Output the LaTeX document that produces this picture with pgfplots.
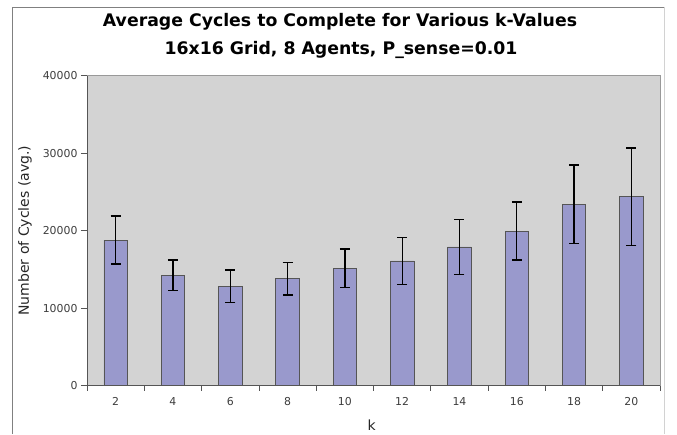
\documentclass[border=0pt]{standalone}
\usepackage{pgfplots}
\pgfplotsset{compat=1.18}
\usepackage{fontspec}
\setmainfont{DejaVu Sans}
\definecolor{barfill}{RGB}{153,153,204}
\definecolor{bg}{RGB}{211,211,211}
\definecolor{axisdark}{RGB}{85,85,85}
\definecolor{ticktext}{RGB}{60,60,60}
\pgfplotstableread{
k  y      e
2  18800  3080
4  14250  1950
6  12860  2100
8  13800  2120
10 15150  2480
12 16100  3050
14 17900  3550
16 19960  3750
18 23400  5050
20 24400  6280
}\datatable
\begin{document}
\begin{tikzpicture}[x=1pt,y=1pt]
\path[use as bounding box] (0,0) rectangle (677,434);
\draw[gray, line width=0.8pt] (12,0) -- (12,427) -- (664,427);
\draw[gray!35, line width=0.8pt] (664,427) -- (664,0);
\node[font=\bfseries\fontsize{17.3}{20}\selectfont] at (340,412) {Average Cycles to Complete for Various k-Values};
\node[font=\bfseries\fontsize{17.3}{20}\selectfont] at (341,384) {16x16 Grid, 8 Agents, P\_sense=0.01};
\begin{axis}[
  at={(87pt,48.3pt)}, anchor=south west,
  scale only axis, width=573pt, height=310pt,
  xmin=1, xmax=21, ymin=0, ymax=40000,
  axis lines=left,
  axis line style={-, axisdark, line width=1pt},
  axis background/.style={fill=bg, draw=gray!80, line width=0.8pt},
  xtick={2,4,...,20},
  minor xtick={1,3,...,21},
  major x tick style={draw=none},
  ytick={0,10000,...,40000},
  tick align=outside,
  major tick length=6pt,
  minor tick length=5pt,
  tick style={axisdark, line width=0.8pt},
  scaled y ticks=false,
  /pgf/number format/1000 sep={},
  /pgf/number format/assume math mode=true,
  ticklabel style={font=\fontsize{10.9}{12}\selectfont, text=ticktext},
  xticklabel style={yshift=-2pt},
  xlabel={k},
  ylabel={Number of Cycles (avg.)},
  label style={font=\fontsize{14}{16}\selectfont, text=black!85},
  xlabel style={at={(axis description cs:0.497,-0.127)}, anchor=center},
  ylabel style={at={(axis description cs:-0.108,0.5)}, anchor=center},
  clip=false,
]
\addplot[ybar, bar width=0.82, fill=barfill, draw=axisdark, line width=0.8pt,
  error bars/.cd, y dir=both, y explicit,
  error bar style={black, line width=1.3pt},
  error mark options={rotate=90, mark size=5pt, line width=1.5pt, black}]
  table[x=k, y=y, y error=e] {\datatable};
\end{axis}
\end{tikzpicture}
\end{document}
